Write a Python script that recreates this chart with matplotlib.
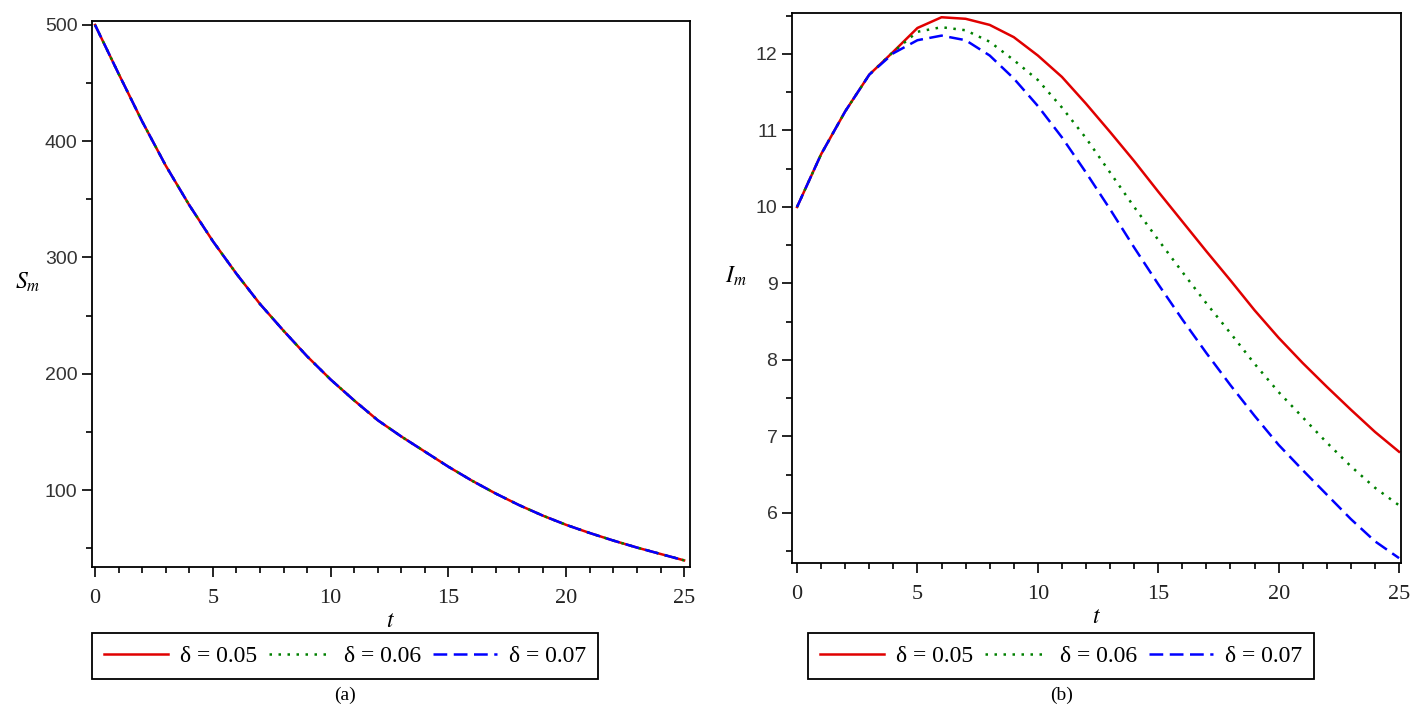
import numpy as np
import matplotlib.pyplot as plt
from matplotlib.ticker import MultipleLocator

plt.rcParams['mathtext.fontset'] = 'stix'
plt.rcParams['axes.linewidth'] = 1.3

# time grid
t = [0, 1, 2, 3, 4, 5, 6, 7, 8, 9, 10, 11, 12, 13, 14, 15, 16, 17, 18, 19, 20, 21, 22, 23, 24, 25]

# (a) S_m -- the three delta curves coincide
S_m = [500, 458, 417, 379, 345, 314, 286, 260, 237, 215, 195, 177, 160, 146, 133,
       120, 108, 97, 87, 78, 70, 63, 56.5, 50.5, 45, 39.5]

# (b) I_m for each delta
I_005 = [10.0, 10.69, 11.25, 11.73, 12.03, 12.34, 12.48, 12.46, 12.38, 12.22, 11.98, 11.70,
         11.35, 10.98, 10.60, 10.20, 9.81, 9.42, 9.04, 8.65, 8.29, 7.96, 7.65, 7.35, 7.06, 6.80]
I_006 = [10.0, 10.69, 11.25, 11.73, 12.03, 12.29, 12.35, 12.31, 12.16, 11.92, 11.66, 11.30,
         10.90, 10.45, 10.00, 9.57, 9.15, 8.74, 8.35, 7.95, 7.58, 7.25, 6.92, 6.61, 6.33, 6.10]
I_007 = [10.0, 10.69, 11.25, 11.73, 12.01, 12.18, 12.24, 12.18, 11.98, 11.68, 11.32, 10.91,
         10.45, 9.97, 9.47, 8.99, 8.53, 8.09, 7.67, 7.27, 6.89, 6.56, 6.24, 5.92, 5.63, 5.41]

labels = ['\u03b4 = 0.05', '\u03b4 = 0.06', '\u03b4 = 0.07']
colors = ['#e00000', '#008000', '#0000ff']

fig = plt.figure(figsize=(14.11, 7.09), dpi=100)
ax1 = fig.add_axes([0.0652, 0.2003, 0.4238, 0.7701])
ax2 = fig.add_axes([0.5613, 0.2059, 0.4316, 0.7758])


def draw(ax, ys):
    lw = 1.8
    l1, = ax.plot(t, ys[0], color=colors[0], lw=lw, label=labels[0])
    l2, = ax.plot(t, ys[1], color=colors[1], lw=lw, label=labels[1])
    l2.set_dashes([1, 2.6])
    l3, = ax.plot(t, ys[2], color=colors[2], lw=lw, label=labels[2])
    l3.set_dashes([5.5, 2.6])
    return [l1, l2, l3]


h1 = draw(ax1, [S_m, S_m, S_m])
h2 = draw(ax2, [I_005, I_006, I_007])

ax1.set_xlim(-0.13, 25.25)
ax1.set_ylim(33.8, 503.4)
ax1.yaxis.set_major_locator(MultipleLocator(100))
ax1.yaxis.set_minor_locator(MultipleLocator(50))

ax2.set_xlim(-0.21, 25.08)
ax2.set_ylim(5.346, 12.536)
ax2.yaxis.set_major_locator(MultipleLocator(1))
ax2.yaxis.set_minor_locator(MultipleLocator(0.5))

for ax in (ax1, ax2):
    ax.xaxis.set_major_locator(MultipleLocator(5))
    ax.xaxis.set_minor_locator(MultipleLocator(1))
    ax.tick_params(which='both', direction='out', top=False, right=False, width=1.2)
    ax.tick_params(which='major', length=7)
    ax.tick_params(which='minor', length=4.5)
    ax.tick_params(axis='x', pad=9)
    for lab in ax.get_xticklabels():
        lab.set_family('Liberation Serif')
        lab.set_fontsize(16)
        lab.set_color('#222222')
    for lab in ax.get_yticklabels():
        lab.set_family('Liberation Sans')
        lab.set_fontsize(14)
        lab.set_color('#333333')
    ax.set_xlabel(r'$t$', fontsize=17, labelpad=0)

ax1.set_ylabel(r'$S_m$', fontsize=17, rotation=0, labelpad=12)
ax2.set_ylabel(r'$I_m$', fontsize=17, rotation=0, labelpad=14)

legkw = dict(loc='center', ncol=3, frameon=True, fancybox=False, edgecolor='black',
             handlelength=2.7, columnspacing=0.5, handletextpad=0.5, borderpad=0.5,
             prop={'family': 'Liberation Serif', 'size': 17})
leg1 = fig.legend(handles=h1, bbox_to_anchor=(0.2445, 0.0747), **legkw)
leg2 = fig.legend(handles=h2, bbox_to_anchor=(0.752, 0.0747), **legkw)
for leg in (leg1, leg2):
    leg.get_frame().set_linewidth(1.3)
    leg.get_frame().set_alpha(1)

fig.text(0.2445, 0.0197, '(a)', ha='center', va='center', family='Liberation Serif', fontsize=14)
fig.text(0.752, 0.0197, '(b)', ha='center', va='center', family='Liberation Serif', fontsize=14)

fig.savefig('out.png', dpi=100)
